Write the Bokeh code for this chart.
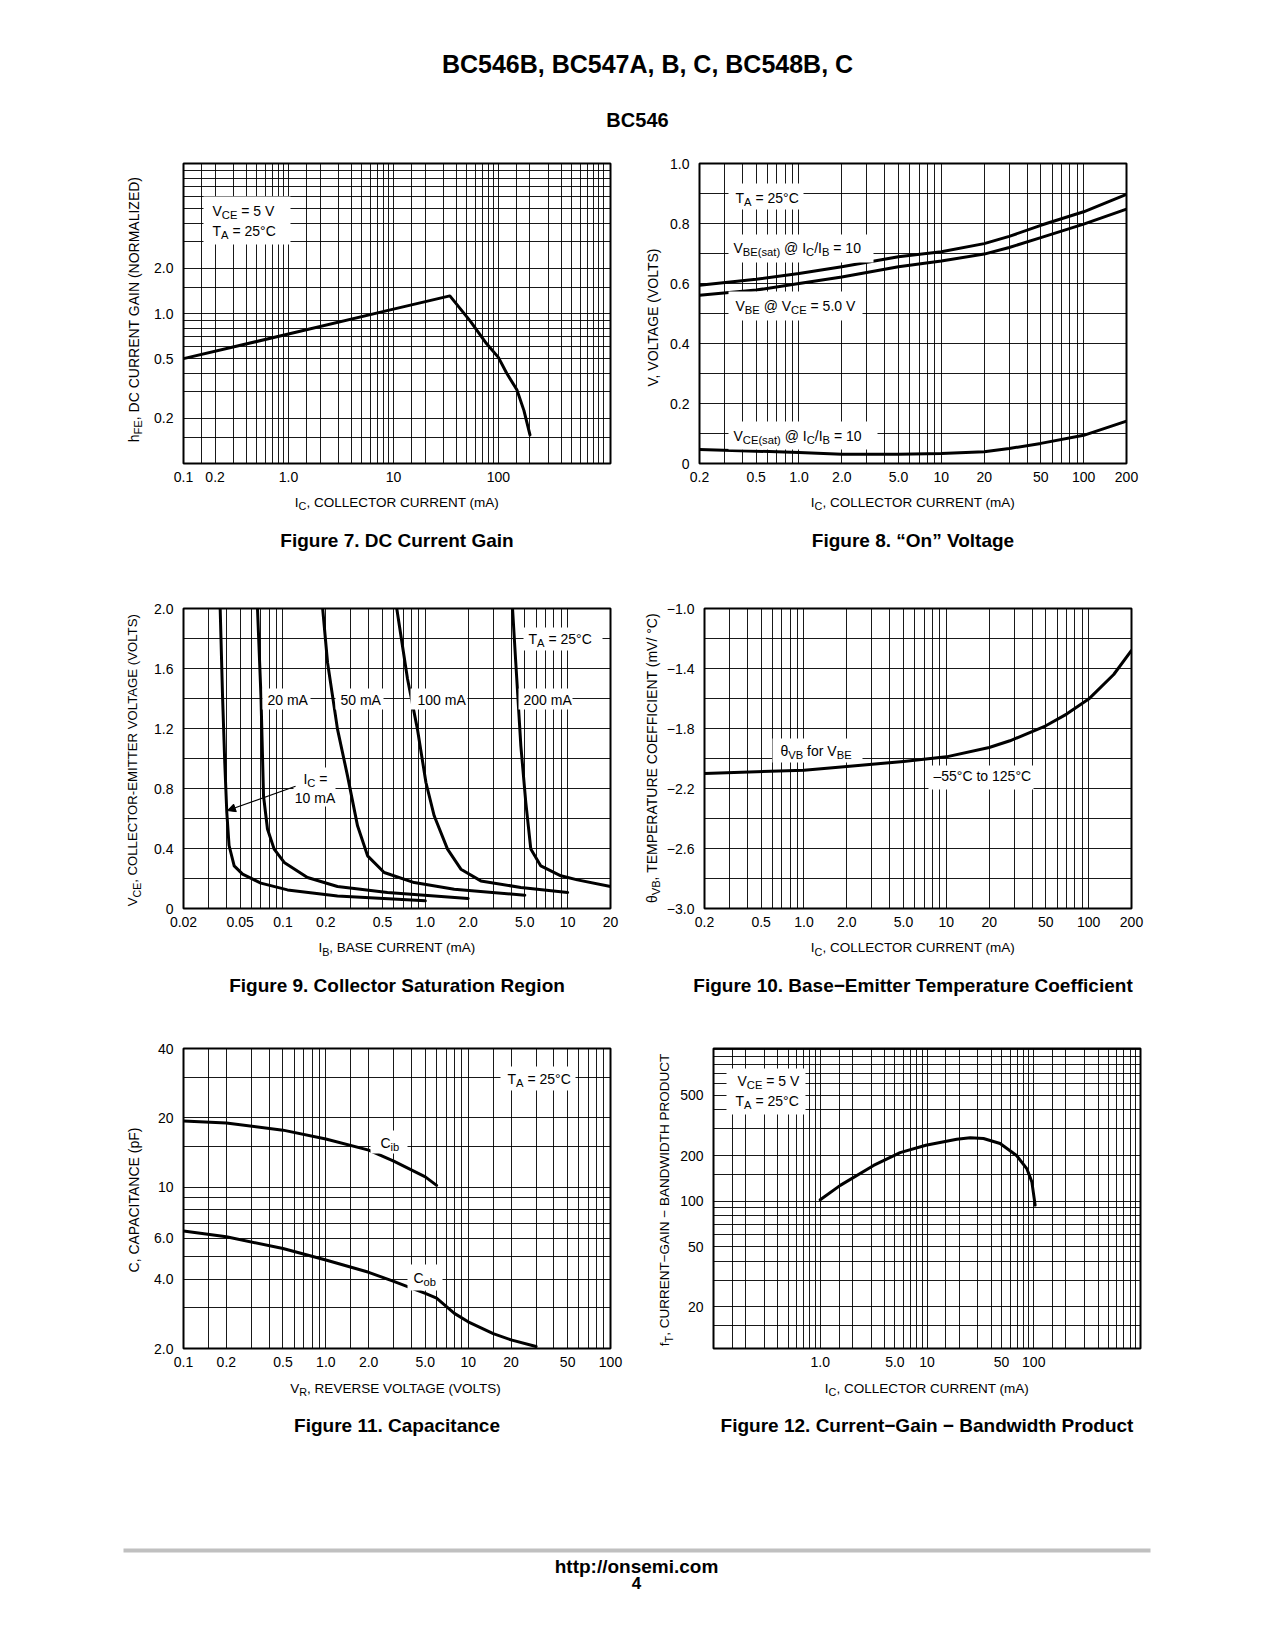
import math
from bokeh.plotting import figure
from bokeh.models import (Range1d, FixedTicker, CustomJSTickFormatter, Label,
                          BoxAnnotation, Arrow, NormalHead)
from bokeh.layouts import column, row
from bokeh.embed import file_html
from bokeh.resources import INLINE

FONT = "Liberation Sans"

# ---------------- data ----------------
# Figure 7: DC current gain
fig7_ic = [0.1, 1.0, 10, 34.5, 54, 77, 100, 120, 150, 175, 200]
fig7_hfe = [0.50, 0.73, 1.07, 1.31, 0.89, 0.63, 0.51, 0.40, 0.31, 0.226, 0.155]

# Figure 8: "On" voltage
fig8_ic = [0.2, 0.5, 1.0, 2.0, 5.0, 10, 20, 30, 50, 100, 200]
fig8_vbe_sat = [0.594, 0.614, 0.633, 0.656, 0.689, 0.706, 0.733, 0.757, 0.794, 0.839, 0.897]
fig8_vbe = [0.561, 0.578, 0.600, 0.622, 0.656, 0.675, 0.698, 0.720, 0.753, 0.798, 0.848]
fig8_vce_sat = [0.047, 0.041, 0.037, 0.031, 0.031, 0.033, 0.039, 0.050, 0.067, 0.094, 0.141]

# Figure 9: collector saturation region
fig9_ib_10 = [0.0362, 0.0376, 0.039, 0.0403, 0.0418, 0.0454, 0.052, 0.0699, 0.1076, 0.2415, 1.0]
fig9_vce_10 = [2.0, 1.42, 0.97, 0.64, 0.42, 0.284, 0.229, 0.169, 0.124, 0.084, 0.051]
fig9_ib_20 = [0.0662, 0.070, 0.073, 0.0778, 0.0867, 0.102, 0.1486, 0.2415, 0.542, 2.0]
fig9_vce_20 = [2.0, 1.42, 0.75, 0.53, 0.396, 0.307, 0.207, 0.147, 0.107, 0.067]
fig9_ib_50 = [0.19, 0.2056, 0.2415, 0.284, 0.334, 0.393, 0.514, 0.836, 1.596, 5.0]
fig9_vce_50 = [2.0, 1.64, 1.196, 0.884, 0.551, 0.351, 0.24, 0.173, 0.129, 0.089]
fig9_ib_100 = [0.63, 0.75, 0.88, 1.01, 1.154, 1.432, 1.778, 2.455, 4.69, 10.0]
fig9_vce_100 = [2.0, 1.53, 1.196, 0.84, 0.618, 0.396, 0.262, 0.184, 0.14, 0.107]
fig9_ib_200 = [4.1, 4.32, 4.69, 5.08, 5.51, 6.48, 8.96, 11.7, 20.0]
fig9_vce_200 = [2.0, 1.64, 1.084, 0.707, 0.396, 0.284, 0.218, 0.191, 0.147]

# Figure 10: base-emitter temperature coefficient
fig10_ic = [0.2, 1.0, 2.0, 5.0, 10, 20, 28, 50, 70, 100, 150, 200]
fig10_theta = [-2.10, -2.078, -2.053, -2.02, -1.989, -1.927, -1.882, -1.782, -1.704, -1.604, -1.44, -1.28]

# Figure 11: capacitance
fig11_vr_cib = [0.1, 0.2, 0.5, 1.0, 2.0, 3.0, 5.0, 6.0]
fig11_cib = [19.4, 19.0, 17.7, 16.2, 14.5, 13.0, 11.1, 10.2]
fig11_vr_cob = [0.1, 0.2, 0.5, 1.0, 2.0, 3.0, 5.0, 6.0, 8.0, 10, 15, 20, 30]
fig11_cob = [6.47, 6.1, 5.43, 4.84, 4.28, 3.91, 3.47, 3.31, 2.84, 2.61, 2.32, 2.18, 2.04]

# Figure 12: current-gain bandwidth product
fig12_ic = [1.0, 1.54, 3.16, 5.6, 9.75, 19, 25.4, 33.8, 48.4, 69, 86, 96, 103]
fig12_ft = [102, 127, 172, 209, 234, 256, 262, 259, 240, 200, 164, 134, 94]

# tick labels
fig7_xticks = [0.1, 0.2, 1.0, 10, 100]
fig7_xlabels = ["0.1", "0.2", "1.0", "10", "100"]
fig7_yticks = [0.2, 0.5, 1.0, 2.0]
fig7_ylabels = ["0.2", "0.5", "1.0", "2.0"]
fig8_xticks = [0.2, 0.5, 1.0, 2.0, 5.0, 10, 20, 50, 100, 200]
fig8_xlabels = ["0.2", "0.5", "1.0", "2.0", "5.0", "10", "20", "50", "100", "200"]
fig8_yticks = [0, 0.2, 0.4, 0.6, 0.8, 1.0]
fig8_ylabels = ["0", "0.2", "0.4", "0.6", "0.8", "1.0"]
fig9_xticks = [0.02, 0.05, 0.1, 0.2, 0.5, 1.0, 2.0, 5.0, 10, 20]
fig9_xlabels = ["0.02", "0.05", "0.1", "0.2", "0.5", "1.0", "2.0", "5.0", "10", "20"]
fig9_yticks = [0, 0.4, 0.8, 1.2, 1.6, 2.0]
fig9_ylabels = ["0", "0.4", "0.8", "1.2", "1.6", "2.0"]
fig10_yticks = [-3.0, -2.6, -2.2, -1.8, -1.4, -1.0]
fig10_ylabels = ["\u22123.0", "\u22122.6", "\u22122.2", "\u22121.8", "\u22121.4", "\u22121.0"]
fig11_xticks = [0.1, 0.2, 0.5, 1.0, 2.0, 5.0, 10, 20, 50, 100]
fig11_xlabels = ["0.1", "0.2", "0.5", "1.0", "2.0", "5.0", "10", "20", "50", "100"]
fig11_yticks = [2.0, 4.0, 6.0, 10, 20, 40]
fig11_ylabels = ["2.0", "4.0", "6.0", "10", "20", "40"]
fig12_xticks = [1.0, 5.0, 10, 50, 100]
fig12_xlabels = ["1.0", "5.0", "10", "50", "100"]
fig12_yticks = [20, 50, 100, 200, 500]
fig12_ylabels = ["20", "50", "100", "200", "500"]

title_text = "BC546B, BC547A, B, C, BC548B, C"
subtitle_text = "BC546"
footer_url = "http://onsemi.com"
footer_page = "4"

# ---------------- helpers ----------------
CW = {' ': 278, '\u00a0': 278, '(': 333, ')': 333, ',': 278, '-': 333, '.': 278, '/': 278,
      ':': 278, '=': 584, '@': 1015, '\u00b0': 400, '\u2013': 556, '\u2212': 584, '\u03b8': 556}
for ch in '0123456789':
    CW[ch] = 556
CW.update(dict(A=667, B=667, C=722, D=722, E=667, F=611, G=778, H=722, I=278, J=500,
               K=667, L=556, M=833, N=722, O=778, P=667, Q=778, R=722, S=667, T=611,
               U=722, V=667, W=944, X=667, Y=667, Z=611))
CW.update(dict(a=556, b=556, c=500, d=556, e=556, f=278, g=556, h=556, i=222, j=222,
               k=500, l=222, m=833, n=556, o=556, p=556, q=556, r=333, s=500, t=278,
               u=556, v=500, w=722, x=500, y=500, z=500))
SUB = 0.8
SUB_SHIFT = 4      # subscript drop, px


def tw(s, size):
    return sum(CW.get(c, 556) for c in s) * size / 1000.0


def nb(s):
    """keep leading / trailing blanks visible in SVG"""
    n1 = len(s) - len(s.lstrip(' '))
    n2 = len(s) - len(s.rstrip(' '))
    core = s.strip(' ')
    return '\u00a0' * n1 + core + '\u00a0' * n2


def mklabel(x, y, text, size, units, bold=False, angle=0.0, align="left"):
    return Label(x=x, y=y, x_units=units, y_units=units, text=nb(text), text_font=FONT,
                 text_font_size=f"{size:.1f}px", text_font_style="bold" if bold else "normal",
                 text_color="black", text_align=align, text_baseline="middle", angle=angle)


def rich_frame(p, sx, sy, parts, size=14, align="left"):
    """inside a chart: frame-relative screen units (y up); sy = middle of capitals"""
    ws = [tw(t, size * (SUB if s else 1.0)) for t, s in parts]
    x = sx - (sum(ws) / 2.0 if align == "center" else 0.0)
    for (t, s), w in zip(parts, ws):
        fs = size * SUB if s else size
        p.add_layout(mklabel(x, sy - (SUB_SHIFT if s else 0), t, fs, "screen"))
        x += w


def rich_page(p, x, y, parts, size=14, align="left", rotated=False, bold=False):
    """in a label figure whose data units are page pixels (y down); (x, y) = middle of capitals"""
    if len(parts) == 1 and not parts[0][1]:
        p.add_layout(mklabel(x, y, parts[0][0], size, "data", bold,
                             math.pi / 2 if rotated else 0.0, align))
        return
    ws = [tw(t, size * (SUB if s else 1.0)) for t, s in parts]
    tot = sum(ws)
    if not rotated:
        cur = x - (tot / 2.0 if align == "center" else 0.0)
        for (t, s), w in zip(parts, ws):
            fs = size * SUB if s else size
            p.add_layout(mklabel(cur, y + (SUB_SHIFT if s else 0), t, fs, "data", bold))
            cur += w
    else:
        cur = y + (tot / 2.0 if align == "center" else 0.0)
        for (t, s), w in zip(parts, ws):
            fs = size * SUB if s else size
            p.add_layout(mklabel(x + (SUB_SHIFT if s else 0), cur, t, fs, "data", bold,
                                 math.pi / 2))
            cur -= w


def wbox(p, left, right, bottom, top):
    p.add_layout(BoxAnnotation(left=left, right=right, bottom=bottom, top=top,
                               left_units="screen", right_units="screen",
                               bottom_units="screen", top_units="screen",
                               fill_color="white", fill_alpha=1.0, line_color=None))


def log_grid(lo, hi, mults):
    out = []
    for d in range(int(math.floor(math.log10(lo))) - 1, int(math.ceil(math.log10(hi))) + 1):
        for m in mults:
            v = m * 10.0 ** d
            if lo * 0.9999 <= v <= hi * 1.0001:
                out.append(v)
    return out


def lin_grid(lo, hi, step):
    n = int(round((hi - lo) / step))
    return [lo + i * step for i in range(n + 1)]


M1 = [1, 2, 3, 4, 5, 6, 7, 8, 9]
M15 = [1, 1.5, 2, 3, 4, 5, 6, 7, 8, 9]

FMT_CODE = """
for (let i = 0; i < t.length; i++) {
  if (Math.abs(t[i] - tick) <= 1e-9 * Math.max(1, Math.abs(t[i]))) return l[i];
}
return "";
"""

TOP, BOT, FH = 23, 30, 300   # chart borders and frame height


def make_fig(xr, yr, ylog, bl, br, xt, xl, yt, yl, gx, gy):
    p = figure(frame_width=427, frame_height=FH, x_range=Range1d(*xr), y_range=Range1d(*yr),
               x_axis_type="log", y_axis_type="log" if ylog else "linear",
               output_backend="svg", toolbar_location=None, title=None,
               min_border_left=bl, min_border_right=br, min_border_top=TOP, min_border_bottom=BOT,
               background_fill_color="white", border_fill_color="white",
               outline_line_color="black", outline_line_width=2)
    for ax, tk, lb, so in ((p.xaxis[0], xt, xl, 2), (p.yaxis[0], yt, yl, 4)):
        ax.ticker = FixedTicker(ticks=tk)
        ax.formatter = CustomJSTickFormatter(args=dict(t=tk, l=lb), code=FMT_CODE)
        ax.axis_line_color = None
        ax.major_tick_line_color = None
        ax.minor_tick_line_color = None
        ax.major_label_text_font = FONT
        ax.major_label_text_font_size = "14px"
        ax.major_label_text_color = "black"
        ax.major_label_standoff = so
        ax.axis_label = None
    p.xgrid.ticker = FixedTicker(ticks=gx)
    p.ygrid.ticker = FixedTicker(ticks=gy)
    for g in (p.xgrid, p.ygrid):
        g.grid_line_color = "black"
        g.grid_line_width = 1
        g.grid_line_alpha = 0.9
        g.minor_grid_line_color = None
    return p


def text_fig(x0, y0, w, h):
    """blank figure whose data coordinates are page pixels (y pointing down)"""
    return figure(frame_width=w, frame_height=h, x_range=Range1d(x0, x0 + w),
                  y_range=Range1d(y0 + h, y0), x_axis_type=None, y_axis_type=None,
                  output_backend="svg", toolbar_location=None, title=None,
                  min_border_left=0, min_border_right=0, min_border_top=0, min_border_bottom=0,
                  outline_line_color=None, background_fill_color="white",
                  border_fill_color="white")


def strip_fig(x0, y0, w):
    """blank figure beside a chart, same borders as the chart, page-pixel data units"""
    return figure(frame_width=w, frame_height=FH, x_range=Range1d(x0, x0 + w),
                  y_range=Range1d(y0 + TOP + FH, y0 + TOP), x_axis_type=None, y_axis_type=None,
                  output_backend="svg", toolbar_location=None, title=None,
                  min_border_left=0, min_border_right=0, min_border_top=TOP,
                  min_border_bottom=BOT, outline_line_color=None,
                  background_fill_color="white", border_fill_color="white")


def curve(p, x, y):
    p.line(x, y, line_width=3, line_color="black", line_join="round", line_cap="round")


IC_X = [("I", 0), ("C", 1), (", COLLECTOR CURRENT (mA)", 0)]

# ---------------- Figure 7 ----------------
f7 = make_fig((0.1, 1170), (0.1, 10), True, 38, 30,
              fig7_xticks, fig7_xlabels, fig7_yticks, fig7_ylabels,
              log_grid(0.1, 1000, M15), log_grid(0.1, 10, M15))
curve(f7, fig7_ic, fig7_hfe)
wbox(f7, 20, 107, 219, 267)
rich_frame(f7, 29, 252.6, [("V", 0), ("CE", 1), (" = 5 V", 0)])
rich_frame(f7, 29, 232.7, [("T", 0), ("A", 1), (" = 25\u00b0C", 0)])

# ---------------- Figure 8 ----------------
f8 = make_fig((0.2, 200), (0, 1.0), False, 36, 20,
              fig8_xticks, fig8_xlabels, fig8_yticks, fig8_ylabels,
              log_grid(0.2, 200, M1), lin_grid(0, 1.0, 0.1))
curve(f8, fig8_ic, fig8_vbe_sat)
curve(f8, fig8_ic, fig8_vbe)
curve(f8, fig8_ic, fig8_vce_sat)
wbox(f8, 29, 104, 254, 280)
wbox(f8, 29, 174, 201, 229)
wbox(f8, 29, 163, 143, 172)
wbox(f8, 29, 178, 14, 42)
rich_frame(f8, 36, 266, [("T", 0), ("A", 1), (" = 25\u00b0C", 0)])
rich_frame(f8, 34, 216, [("V", 0), ("BE(sat)", 1), (" @ I", 0), ("C", 1), ("/I", 0), ("B", 1), (" = 10", 0)])
rich_frame(f8, 36, 158, [("V", 0), ("BE", 1), (" @ V", 0), ("CE", 1), (" = 5.0 V", 0)])
rich_frame(f8, 34, 28, [("V", 0), ("CE(sat)", 1), (" @ I", 0), ("C", 1), ("/I", 0), ("B", 1), (" = 10", 0)])

# ---------------- Figure 9 ----------------
f9 = make_fig((0.02, 20), (0, 2.0), False, 38, 30,
              fig9_xticks, fig9_xlabels, fig9_yticks, fig9_ylabels,
              log_grid(0.02, 20, M1), lin_grid(0, 2.0, 0.2))
curve(f9, fig9_ib_10, fig9_vce_10)
curve(f9, fig9_ib_20, fig9_vce_20)
curve(f9, fig9_ib_50, fig9_vce_50)
curve(f9, fig9_ib_100, fig9_vce_100)
curve(f9, fig9_ib_200, fig9_vce_200)
wbox(f9, 340, 419, 258, 281)
wbox(f9, 79, 127, 199, 220)
wbox(f9, 152, 200, 199, 220)
wbox(f9, 227, 284, 199, 220)
wbox(f9, 335, 389, 199, 220)
wbox(f9, 110, 152, 102, 141)
rich_frame(f9, 345, 270, [("T", 0), ("A", 1), (" = 25\u00b0C", 0)])
rich_frame(f9, 84, 209, [("20 mA", 0)])
rich_frame(f9, 157, 209, [("50 mA", 0)])
rich_frame(f9, 234, 209, [("100 mA", 0)])
rich_frame(f9, 340, 209, [("200 mA", 0)])
rich_frame(f9, 132, 130, [("I", 0), ("C", 1), (" =", 0)], align="center")
rich_frame(f9, 131.5, 111, [("10 mA", 0)], align="center")
f9.add_layout(Arrow(end=NormalHead(size=8, fill_color="black", line_color="black", line_width=1),
                    x_start=0.1225, y_start=0.815, x_end=0.0407, y_end=0.653,
                    line_color="black", line_width=1.2))

# ---------------- Figure 10 ----------------
f10 = make_fig((0.2, 200), (-3.0, -1.0), False, 36, 20,
               fig8_xticks, fig8_xlabels, fig10_yticks, fig10_ylabels,
               log_grid(0.2, 200, M1), lin_grid(-3.0, -1.0, 0.2))
curve(f10, fig10_ic, fig10_theta)
wbox(f10, 68, 158, 146, 170)
wbox(f10, 224, 329, 119, 143)
rich_frame(f10, 76, 158, [("\u03b8", 0), ("VB", 1), (" for V", 0), ("BE", 1)])
rich_frame(f10, 229, 133, [("\u201355\u00b0C to 125\u00b0C", 0)])

# ---------------- Figure 11 ----------------
f11 = make_fig((0.1, 100), (2.0, 40), True, 38, 30,
               fig11_xticks, fig11_xlabels, fig11_yticks, fig11_ylabels,
               log_grid(0.1, 100, M15), log_grid(2.0, 40, M15))
curve(f11, fig11_vr_cib, fig11_cib)
curve(f11, fig11_vr_cob, fig11_cob)
wbox(f11, 317, 392, 258, 282)
wbox(f11, 187, 224, 195, 218)
wbox(f11, 224, 259, 58, 84)
rich_frame(f11, 324, 270, [("T", 0), ("A", 1), (" = 25\u00b0C", 0)])
rich_frame(f11, 197, 206, [("C", 0), ("ib", 1)])
rich_frame(f11, 230, 71, [("C", 0), ("ob", 1)])

# ---------------- Figure 12 ----------------
f12 = make_fig((0.1, 1000), (10.6, 1020), True, 38, 6,
               fig12_xticks, fig12_xlabels, fig12_yticks, fig12_ylabels,
               log_grid(0.1, 1000, M15), log_grid(10.6, 1020, M15))
curve(f12, fig12_ic, fig12_ft)
wbox(f12, 13, 92, 234, 280)
rich_frame(f12, 24, 268, [("V", 0), ("CE", 1), (" = 5 V", 0)])
rich_frame(f12, 22, 248, [("T", 0), ("A", 1), (" = 25\u00b0C", 0)])

# ---------------- page-level texts (figures in page pixel units) ----------------
head = text_fig(0, 0, 1160, 140)
head.add_layout(mklabel(647, 63.3, title_text, 25, "data", True, 0.0, "center"))
head.add_layout(mklabel(637, 119, subtitle_text, 20, "data", True, 0.0, "center"))

# y-axis label strips (rows start at page y 140, 585, 1025)
y7 = strip_fig(0, 140, 145)
rich_page(y7, 133, 309, [("h", 0), ("FE", 1), (", DC CURRENT GAIN (NORMALIZED)", 0)],
          size=14, align="center", rotated=True)
y8 = strip_fig(640, 140, 23)
rich_page(y8, 652, 317, [("V, VOLTAGE (VOLTS)", 0)], size=14, align="center", rotated=True)
y9 = strip_fig(0, 585, 145)
rich_page(y9, 132, 758, [("V", 0), ("CE", 1), (", COLLECTOR-EMITTER VOLTAGE (VOLTS)", 0)],
          size=13.2, align="center", rotated=True)
y10 = strip_fig(640, 585, 23)
rich_page(y10, 651, 757, [("\u03b8", 0), ("VB", 1), (", TEMPERATURE COEFFICIENT (mV/ \u00b0C)", 0)],
          size=14, align="center", rotated=True)
y11 = strip_fig(0, 1025, 145)
rich_page(y11, 133, 1199.5, [("C, CAPACITANCE (pF)", 0)], size=14, align="center", rotated=True)
y12 = strip_fig(640, 1025, 35)
rich_page(y12, 664, 1199.5, [("f", 0), ("T", 1), (", CURRENT\u2212GAIN \u2212 BANDWIDTH PRODUCT", 0)],
          size=13.5, align="center", rotated=True)

# x-axis labels and captions under each row
b1 = text_fig(0, 493, 1146, 92)
rich_page(b1, 396.5, 501.7, IC_X, size=13.5, align="center")
rich_page(b1, 912.5, 501.7, IC_X, size=13.5, align="center")
b1.add_layout(mklabel(396.5, 539.7, "Figure 7. DC Current Gain", 19, "data", True, 0.0, "center"))
b1.add_layout(mklabel(912.5, 539.7, "Figure 8. \u201cOn\u201d Voltage", 19, "data", True, 0.0, "center"))

b2 = text_fig(0, 938, 1146, 87)
rich_page(b2, 396.5, 947, [("I", 0), ("B", 1), (", BASE CURRENT (mA)", 0)], size=13.5, align="center")
rich_page(b2, 912.5, 947, IC_X, size=13.5, align="center")
b2.add_layout(mklabel(396.5, 984.7, "Figure 9. Collector Saturation Region", 19, "data", True, 0.0, "center"))
b2.add_layout(mklabel(912.5, 984.7, "Figure 10. Base\u2212Emitter Temperature Coefficient", 19, "data", True, 0.0, "center"))

b3 = text_fig(0, 1378, 1146, 65)
rich_page(b3, 396.5, 1387.5, [("V", 0), ("R", 1), (", REVERSE VOLTAGE (VOLTS)", 0)], size=13.5, align="center")
rich_page(b3, 926.5, 1387.5, IC_X, size=13.5, align="center")
b3.add_layout(mklabel(396.5, 1424.5, "Figure 11. Capacitance", 19, "data", True, 0.0, "center"))
b3.add_layout(mklabel(926.5, 1424.5, "Figure 12. Current\u2212Gain \u2212 Bandwidth Product", 19, "data", True, 0.0, "center"))

foot = text_fig(0, 1443, 1160, 160)
foot.add_layout(BoxAnnotation(left=123, right=1150, top=1548, bottom=1552,
                              fill_color="#c0c0c0", fill_alpha=1.0, line_color=None))
foot.add_layout(mklabel(636, 1566, footer_url, 19, "data", True, 0.0, "center"))
foot.add_layout(mklabel(636, 1582.5, footer_page, 17, "data", True, 0.0, "center"))

layout = column(head,
                row(y7, f7, y8, f8), b1,
                row(y9, f9, y10, f10), b2,
                row(y11, f11, y12, f12), b3,
                foot)

open("out.html", "w").write(file_html(layout, INLINE))
